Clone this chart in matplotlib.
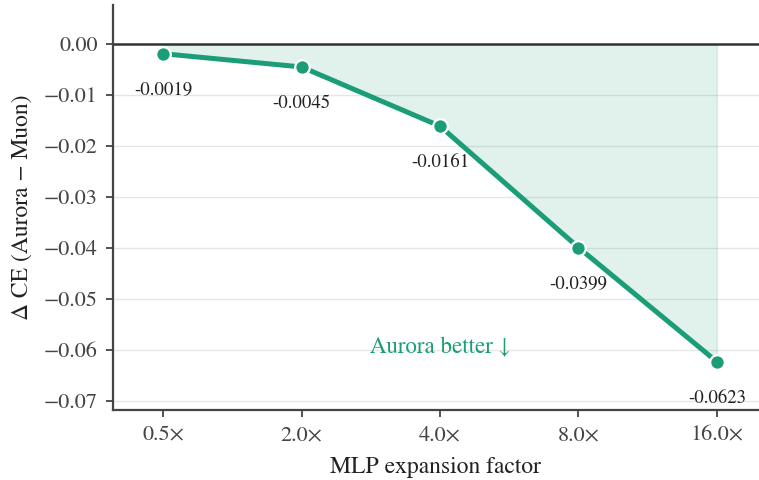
import matplotlib
matplotlib.use("Agg")
import matplotlib.pyplot as plt
import numpy as np

plt.rcParams["font.family"] = ["STIXGeneral", "DejaVu Serif"]
plt.rcParams["mathtext.fontset"] = "stix"

factors = ["0.5×", "2.0×", "4.0×", "8.0×", "16.0×"]
delta_ce = [-0.0019, -0.0045, -0.0161, -0.0399, -0.0623]
yticks = [0.00, -0.01, -0.02, -0.03, -0.04, -0.05, -0.06, -0.07]

green = "#1b9e77"
x = np.arange(len(factors))

fig = plt.figure(figsize=(7.59, 4.80), dpi=100)
ax = fig.add_axes([113 / 759, (480 - 410) / 480, (759 - 113) / 759, (410 - 5) / 480])

for yv in yticks[1:]:
    ax.axhline(yv, color="#e6e6e6", lw=1.0, zorder=0)
ax.axhline(0, color="#333333", lw=1.8, zorder=2)

ax.fill_between(x, delta_ce, 0, color=green, alpha=0.13, lw=1.2, zorder=1)
ax.plot(x, delta_ce, color=green, lw=3.6, marker="o", ms=10.5,
        markeredgecolor="white", markeredgewidth=1.6, zorder=3)

for xi, v in zip(x, delta_ce):
    ax.annotate(f"{v:.4f}", (xi, v), xytext=(0, -20), textcoords="offset points",
                ha="center", va="top", fontsize=13.5, color="#222222")

ax.text(2, -0.0596, "Aurora better ↓", ha="center", va="center",
        fontsize=16.5, color=green)

ax.set_xlim(-0.362, 4.304)
ax.set_ylim(-0.07176, 0.00765)
ax.set_xticks(x)
ax.set_xticklabels(factors)
ax.set_yticks(yticks)
ax.set_yticklabels(["0.00"] + [f"−{abs(t):.2f}" for t in yticks[1:]])

ax.tick_params(axis="both", labelsize=16, colors="#444444", length=5, width=1.3,
               labelcolor="#444444", pad=6)
ax.set_xlabel("MLP expansion factor", fontsize=17, color="#222222", labelpad=8)
ax.set_ylabel("Δ CE (Aurora − Muon)", fontsize=17, color="#222222", labelpad=8)

for side in ["top", "right"]:
    ax.spines[side].set_visible(False)
for side in ["left", "bottom"]:
    ax.spines[side].set_color("#444444")
    ax.spines[side].set_linewidth(1.6)

fig.savefig("out.png", dpi=100)
